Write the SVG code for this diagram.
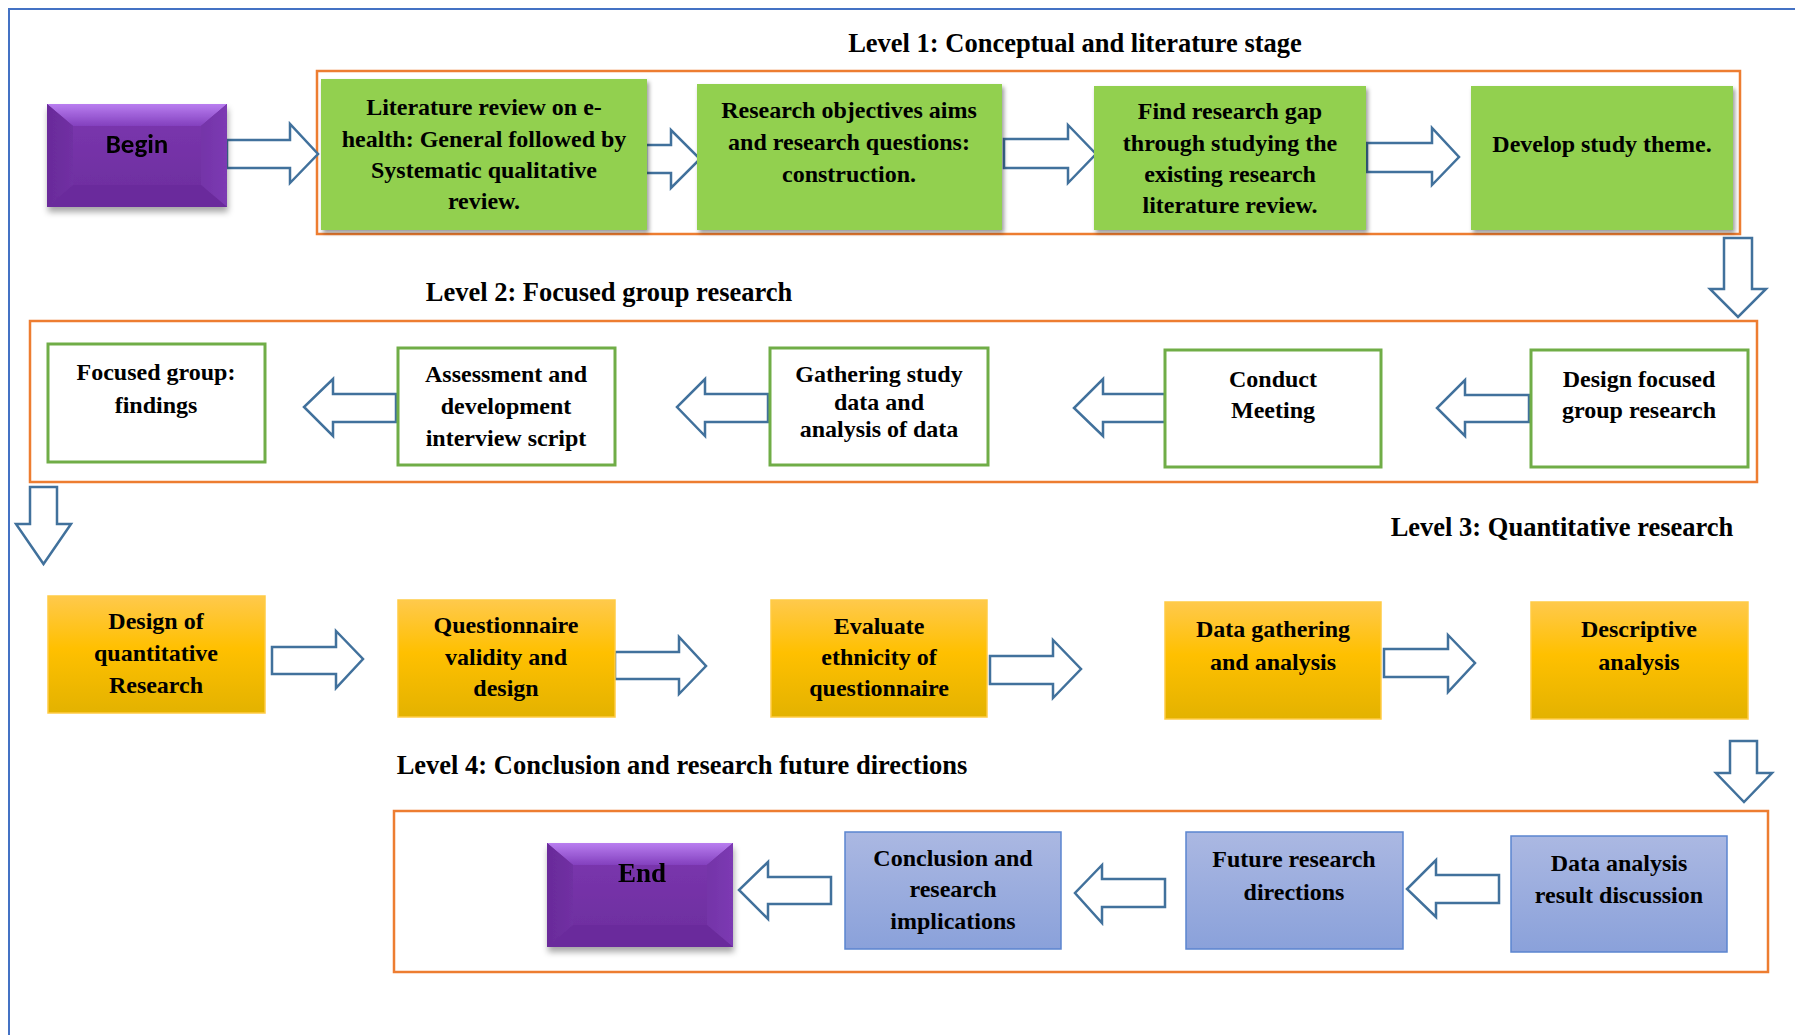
<svg xmlns="http://www.w3.org/2000/svg" width="1795" height="1035" viewBox="0 0 1795 1035">
  <defs>
    <style>
      .t { font-family: "Liberation Serif", "Times New Roman", serif; font-weight: bold; font-size: 24px; fill: #000; text-anchor: middle; }
      .title { font-family: "Liberation Serif", "Times New Roman", serif; font-weight: bold; font-size: 26.5px; fill: #000; text-anchor: middle; }
      .frame { fill: none; stroke: #ED7D31; stroke-width: 2.5; }
      .green { fill: #92D050; filter: url(#shadow); }
      .white { fill: #FFFFFF; stroke: #70AD47; stroke-width: 3; }
      .gold { fill: url(#goldGrad); stroke: #FFCB45; stroke-width: 1.5; }
      .blue { fill: url(#blueGrad); stroke: #5B85CF; stroke-width: 1.5; }
      .arrow { fill: #FFFFFF; stroke: #41719C; stroke-width: 2.5; stroke-linejoin: miter; }
    </style>
    <filter id="shadow" x="-10%" y="-10%" width="125%" height="130%">
      <feDropShadow dx="2" dy="3" stdDeviation="2" flood-color="#000" flood-opacity="0.4"/>
    </filter>
    <filter id="bevelShadow" x="-10%" y="-10%" width="125%" height="135%">
      <feDropShadow dx="1" dy="5" stdDeviation="3" flood-color="#000" flood-opacity="0.35"/>
    </filter>
    <linearGradient id="goldGrad" x1="0" y1="0" x2="0" y2="1">
      <stop offset="0" stop-color="#FFC94C"/>
      <stop offset="0.45" stop-color="#FFC000"/>
      <stop offset="1" stop-color="#E3B200"/>
    </linearGradient>
    <linearGradient id="blueGrad" x1="0" y1="0" x2="0" y2="1">
      <stop offset="0" stop-color="#ABB8E2"/>
      <stop offset="1" stop-color="#8AA1DA"/>
    </linearGradient>
    <linearGradient id="bevelTop" x1="0" y1="0" x2="0" y2="1">
      <stop offset="0" stop-color="#B97EF0"/>
      <stop offset="1" stop-color="#8340BE"/>
    </linearGradient>
    <linearGradient id="bevelFace" x1="0" y1="0" x2="0" y2="1">
      <stop offset="0" stop-color="#7935AC"/>
      <stop offset="1" stop-color="#6F2FA1"/>
    </linearGradient>
    <linearGradient id="bevelLeft" x1="0" y1="0" x2="1" y2="0">
      <stop offset="0" stop-color="#6A2B9A"/>
      <stop offset="1" stop-color="#7030A3"/>
    </linearGradient>
    <linearGradient id="bevelRight" x1="0" y1="0" x2="1" y2="0">
      <stop offset="0" stop-color="#7434A8"/>
      <stop offset="1" stop-color="#7C3AB3"/>
    </linearGradient>
  </defs>

  <!-- outer page border -->
  <path d="M9 1035 V9 H1795" fill="none" stroke="#4472C4" stroke-width="2"/>

  <!-- level titles -->
  <text class="title" x="1075" y="52">Level 1: Conceptual and literature stage</text>
  <text class="title" x="609" y="301">Level 2: Focused group research</text>
  <text class="title" x="1562" y="536">Level 3: Quantitative research</text>
  <text class="title" x="682" y="774">Level 4: Conclusion and research future directions</text>

  <!-- level frames -->
  <rect class="frame" x="317" y="71" width="1423" height="163"/>
  <rect class="frame" x="30" y="321" width="1727" height="161"/>
  <rect class="frame" x="394" y="811" width="1374" height="161"/>

  <!-- connectors -->
  <g id="connectors">
    <!-- level 1, rightward -->
    <polygon class="arrow" points="227,140 290,140 290,124 318,154 290,183 290,168 227,168"/>
    <polygon class="arrow" points="646,145 671,145 671,130 700,159 671,188 671,173 646,173"/>
    <polygon class="arrow" points="1004,139 1068,139 1068,125 1096,154 1068,183 1068,168 1004,168"/>
    <polygon class="arrow" points="1367,143 1432,143 1432,128 1459,157 1432,185 1432,172 1367,172"/>
    <!-- level 1 to level 2, down -->
    <polygon class="arrow" points="1724,238 1752,238 1752,289 1766,289 1738,317 1710,289 1724,289"/>
    <!-- level 2, leftward -->
    <polygon class="arrow" points="396,394 333,394 333,379 304,407 333,436 333,422 396,422"/>
    <polygon class="arrow" points="768,394 705,394 705,379 677,407 705,436 705,422 768,422"/>
    <polygon class="arrow" points="1165,394 1103,394 1103,379 1074,408 1103,436 1103,422 1165,422"/>
    <polygon class="arrow" points="1529,395 1465,395 1465,380 1437,408 1465,436 1465,422 1529,422"/>
    <!-- level 2 to level 3, down -->
    <polygon class="arrow" points="30,487 57,487 57,524 71,524 43.5,564 16,524 30,524"/>
    <!-- level 3, rightward -->
    <polygon class="arrow" points="272,647 336,647 336,631 363,659 336,688 336,674 272,674"/>
    <polygon class="arrow" points="615,652 679,652 679,637 706,666 679,694 679,679 615,679"/>
    <polygon class="arrow" points="990,656 1053,656 1053,640 1081,669 1053,698 1053,684 990,684"/>
    <polygon class="arrow" points="1384,649 1448,649 1448,635 1475,663 1448,692 1448,677 1384,677"/>
    <!-- level 3 to level 4, down -->
    <polygon class="arrow" points="1730,741 1757,741 1757,773 1772,773 1744,802 1716,773 1730,773"/>
    <!-- level 4, leftward -->
    <polygon class="arrow" points="831,877 768,877 768,862 739,890 768,919 768,904 831,904"/>
    <polygon class="arrow" points="1165,879 1102,879 1102,865 1075,893 1102,923 1102,907 1165,907"/>
    <polygon class="arrow" points="1499,875 1436,875 1436,860 1407,889 1436,917 1436,903 1499,903"/>
  </g>

  <!-- start node -->
  <g id="begin" filter="url(#bevelShadow)">
    <rect x="47" y="104" width="180" height="103" fill="#7030A0"/>
    <polygon points="47,104 227,104 201,126 73,126" fill="url(#bevelTop)"/>
    <polygon points="47,104 73,126 73,185 47,207" fill="url(#bevelLeft)"/>
    <polygon points="227,104 201,126 201,185 227,207" fill="url(#bevelRight)"/>
    <polygon points="47,207 73,185 201,185 227,207" fill="#6B2C9C"/>
    <rect x="73" y="126" width="128" height="59" fill="url(#bevelFace)"/>
    <text x="137" y="153" text-anchor="middle" font-family="Carlito, Lato, 'Open Sans', sans-serif" font-weight="bold" font-size="27" fill="#000">Begin</text>
  </g>

  <!-- level 1 nodes -->
  <g id="lit-review">
    <rect class="green" x="321" y="79" width="326" height="151"/>
    <text class="t" x="484" y="115">Literature review on e-</text>
    <text class="t" x="484" y="147">health: General followed by</text>
    <text class="t" x="484" y="178">Systematic qualitative</text>
    <text class="t" x="484" y="209">review.</text>
  </g>
  <g id="objectives">
    <rect class="green" x="697" y="84" width="305" height="146"/>
    <text class="t" x="849" y="118">Research objectives aims</text>
    <text class="t" x="849" y="150">and research questions:</text>
    <text class="t" x="849" y="182">construction.</text>
  </g>
  <g id="research-gap">
    <rect class="green" x="1094" y="86" width="272" height="144"/>
    <text class="t" x="1230" y="119">Find research gap</text>
    <text class="t" x="1230" y="151">through studying the</text>
    <text class="t" x="1230" y="182">existing research</text>
    <text class="t" x="1230" y="213">literature review.</text>
  </g>
  <g id="study-theme">
    <rect class="green" x="1471" y="86" width="262" height="144"/>
    <text class="t" x="1602" y="152">Develop study theme.</text>
  </g>

  <!-- level 2 nodes -->
  <g id="fg-findings">
    <rect class="white" x="48" y="344" width="217" height="118"/>
    <text class="t" x="156" y="380">Focused group:</text>
    <text class="t" x="156" y="413">findings</text>
  </g>
  <g id="interview-script">
    <rect class="white" x="398" y="348" width="217" height="117"/>
    <text class="t" x="506" y="382">Assessment and</text>
    <text class="t" x="506" y="414">development</text>
    <text class="t" x="506" y="446">interview script</text>
  </g>
  <g id="gathering">
    <rect class="white" x="770" y="348" width="218" height="117"/>
    <text class="t" x="879" y="382">Gathering study</text>
    <text class="t" x="879" y="410">data and</text>
    <text class="t" x="879" y="437">analysis of data</text>
  </g>
  <g id="meeting">
    <rect class="white" x="1165" y="350" width="216" height="117"/>
    <text class="t" x="1273" y="387">Conduct</text>
    <text class="t" x="1273" y="418">Meeting</text>
  </g>
  <g id="design-fg">
    <rect class="white" x="1531" y="350" width="217" height="117"/>
    <text class="t" x="1639" y="387">Design focused</text>
    <text class="t" x="1639" y="418">group research</text>
  </g>

  <!-- level 3 nodes -->
  <g id="design-quant">
    <rect class="gold" x="48" y="596" width="217" height="117"/>
    <text class="t" x="156" y="629">Design of</text>
    <text class="t" x="156" y="661">quantitative</text>
    <text class="t" x="156" y="693">Research</text>
  </g>
  <g id="questionnaire">
    <rect class="gold" x="398" y="600" width="217" height="117"/>
    <text class="t" x="506" y="633">Questionnaire</text>
    <text class="t" x="506" y="665">validity and</text>
    <text class="t" x="506" y="696">design</text>
  </g>
  <g id="ethnicity">
    <rect class="gold" x="771" y="600" width="216" height="117"/>
    <text class="t" x="879" y="634">Evaluate</text>
    <text class="t" x="879" y="665">ethnicity of</text>
    <text class="t" x="879" y="696">questionnaire</text>
  </g>
  <g id="data-gathering">
    <rect class="gold" x="1165" y="602" width="216" height="117"/>
    <text class="t" x="1273" y="637">Data gathering</text>
    <text class="t" x="1273" y="670">and analysis</text>
  </g>
  <g id="descriptive">
    <rect class="gold" x="1531" y="602" width="217" height="117"/>
    <text class="t" x="1639" y="637">Descriptive</text>
    <text class="t" x="1639" y="670">analysis</text>
  </g>

  <!-- level 4 nodes -->
  <g id="discussion">
    <rect class="blue" x="1511" y="836" width="216" height="116"/>
    <text class="t" x="1619" y="871">Data analysis</text>
    <text class="t" x="1619" y="903">result discussion</text>
  </g>
  <g id="future">
    <rect class="blue" x="1186" y="832" width="217" height="117"/>
    <text class="t" x="1294" y="867">Future research</text>
    <text class="t" x="1294" y="900">directions</text>
  </g>
  <g id="conclusion">
    <rect class="blue" x="845" y="832" width="216" height="117"/>
    <text class="t" x="953" y="866">Conclusion and</text>
    <text class="t" x="953" y="897">research</text>
    <text class="t" x="953" y="929">implications</text>
  </g>

  <!-- end node -->
  <g id="end" filter="url(#bevelShadow)">
    <rect x="547" y="843" width="186" height="104" fill="#7030A0"/>
    <polygon points="547,843 733,843 707,865 573,865" fill="url(#bevelTop)"/>
    <polygon points="547,843 573,865 573,925 547,947" fill="url(#bevelLeft)"/>
    <polygon points="733,843 707,865 707,925 733,947" fill="url(#bevelRight)"/>
    <polygon points="547,947 573,925 707,925 733,947" fill="#6B2C9C"/>
    <rect x="573" y="865" width="134" height="60" fill="url(#bevelFace)"/>
    <text x="642" y="882" text-anchor="middle" font-family="'Liberation Serif', 'Times New Roman', serif" font-weight="bold" font-size="27" fill="#000">End</text>
  </g>
</svg>
